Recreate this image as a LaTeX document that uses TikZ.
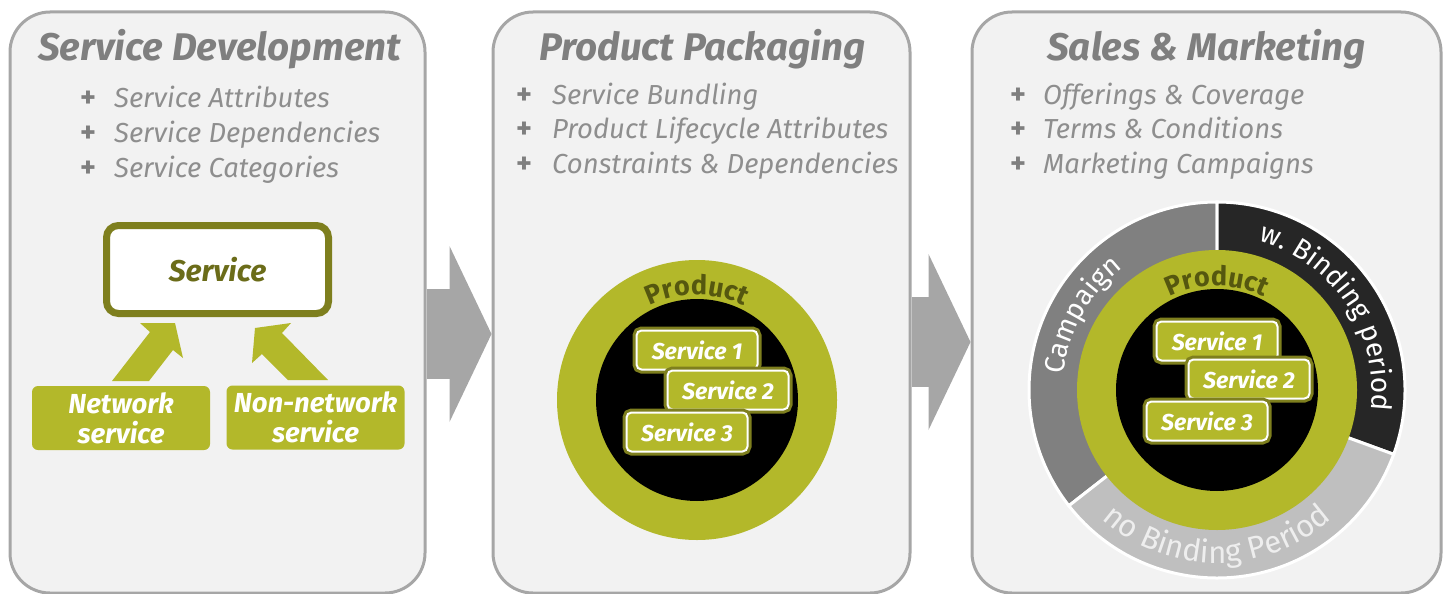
\documentclass[tikz,border=0pt]{standalone}
\usepackage{fontspec}
\setmainfont{Fira Sans}
\usetikzlibrary{arrows.meta,decorations.text}

\definecolor{panelfill}{HTML}{F2F2F2}
\definecolor{panelline}{HTML}{A6A6A6}
\definecolor{titlegray}{HTML}{7F7F7F}
\definecolor{itemgray}{HTML}{8E8E8E}
\definecolor{lime}{HTML}{B3B82A}
\definecolor{olive}{HTML}{7E7F1E}
\definecolor{olivetext}{HTML}{6B6C19}
\definecolor{producttext}{HTML}{55570F}
\definecolor{campaigngray}{HTML}{808080}
\definecolor{bindingdark}{HTML}{262626}
\definecolor{nobindinggray}{HTML}{BFBFBF}
\definecolor{nobindingtext}{HTML}{EEEEEE}

\newcommand\ringtype{\fontsize{28}{28}\selectfont}
\newcommand\lowringtype{\fontsize{31}{31}\selectfont}
\newcommand\producttype{\bfseries\fontsize{27}{27}\selectfont}

\begin{document}
\begin{tikzpicture}
  [
    x = 1pt, y = 1pt,
    panel/.style = {draw=panelline,line width=3,fill=panelfill,rounded corners=40,minimum width=#1,minimum height=581,inner sep=0},
    title/.style = {text=titlegray,font=\bfseries\itshape\fontsize{38.5}{38.5}\selectfont,anchor=base},
    item/.style = {text=itemgray,font=\itshape\fontsize{27.5}{27.5}\selectfont,anchor=base west,inner sep=0},
    plus/.style = {text=titlegray,font=\bfseries\fontsize{30}{30}\selectfont,anchor=base,inner sep=0},
    flow/.style = {draw=panelline,line width=90,-{Triangle[length=42pt,width=176pt,line width=0pt]}},
    feed/.style = {fill=lime},
    service box/.style = {draw=olive,line width=7,fill=white,rounded corners=12,minimum width=222,minimum height=88,text=olivetext,font=\bfseries\itshape\fontsize{30}{30}\selectfont},
    kind box/.style = {fill=lime,rounded corners=6,minimum width=178,minimum height=64,inner sep=0,text=white,align=center,font=\bfseries\itshape\fontsize{27.5}{30}\selectfont},
    outer disc/.style = {circle,fill=lime,minimum size=280,inner sep=0},
    inner disc/.style = {circle,fill=black,minimum size=202,inner sep=0},
    bundle/.style = {fill=lime,draw=white,line width=2,rounded corners=5,minimum width=121,minimum height=39,inner sep=0,text=white,font=\bfseries\itshape\fontsize{23}{23}\selectfont,preaction={draw=olive,line width=8}},
    sector/.style = {draw=white,line width=3},
    product label/.style = {decorate,decoration={text along path,text align=center,text color=producttext,text={|\producttype|Product}}},
    ring label/.style = {decorate,decoration={text along path,text align=center,text color=white,text={|\ringtype|#1}}},
    low ring label/.style = {decorate,decoration={text along path,text align=center,text color=nobindingtext,text={|\lowringtype|#1}}},
  ]

  \useasboundingbox (0,0) rectangle (1445,-594);

  \node[panel=415] (dev)   at (217.5,-302.5)  {};
  \node[panel=417] (pack)  at (701.5,-302.5)  {};
  \node[panel=469] (sales) at (1206.5,-302.5) {};

  \draw[flow] (dev.east |- 0,-334)  -- (pack.west |- 0,-334);
  \draw[flow] (pack.east |- 0,-342) -- (sales.west |- 0,-342);

  \node[title] (dev title)   at (219.5,-60)  {Service Development};
  \node[title] (pack title)  at (702.5,-60)  {Product Packaging};
  \node[title] (sales title) at (1206.5,-60) {Sales \& Marketing};

  \foreach \txt [count=\i] in {Service Attributes,Service Dependencies,Service Categories}
  {
    \node[plus] (dev plus \i) at (88,-72-35*\i)  {+};
    \node[item] (dev item \i) at (114,-72-35*\i) {\txt};
  }
  \foreach \txt [count=\i] in {Service Bundling,Product Lifecycle Attributes,Constraints \& Dependencies}
  {
    \node[plus] (pack plus \i) at (524,-69.5-34.5*\i) {+};
    \node[item] (pack item \i) at (552,-69.5-34.5*\i) {\txt};
  }
  \foreach \txt [count=\i] in {Offerings \& Coverage,Terms \& Conditions,Marketing Campaigns}
  {
    \node[plus] (sales plus \i) at (1018,-69.5-34.5*\i) {+};
    \node[item] (sales item \i) at (1043,-69.5-34.5*\i) {\txt};
  }

  \node[service box] (svc)    at (217.5,-269.5) {Service};
  \node[kind box]    (net)    at (121,-418)     {Network\\service};
  \node[kind box]    (nonnet) at (315.5,-417.5) {Non-network\\service};

  \fill[feed] (112,-381) -- (149,-381) -- (173,-350) -- (183,-358) -- (175,-323) -- (140,-323) -- (150,-332) -- cycle;
  \fill[feed] (288,-380) -- (328,-380) -- (282,-333) -- (291,-323) -- (255,-328) -- (252,-363) -- (262,-354) -- cycle;

  \node[outer disc] (pack ring) at (697,-400) {};
  \node[inner disc] (pack core) at (pack ring.center) {};
  \path[product label] ([shift={(130:105)}]pack ring.center) arc[start angle=130,end angle=50,radius=105];
  \node[bundle] (pack s1) at ([shift={(0,50)}]pack ring.center)   {Service 1};
  \node[bundle] (pack s2) at ([shift={(31,10)}]pack ring.center)  {Service 2};
  \node[bundle] (pack s3) at ([shift={(-10,-32)}]pack ring.center) {Service 3};

  \coordinate (sales c) at (1217,-390);
  \filldraw[sector,fill=campaigngray]  (sales c) -- ++(90:188)  arc[start angle=90,end angle=218,radius=188]  -- cycle;
  \filldraw[sector,fill=bindingdark]   (sales c) -- ++(-20:188) arc[start angle=-20,end angle=90,radius=188]  -- cycle;
  \filldraw[sector,fill=nobindinggray] (sales c) -- ++(218:188) arc[start angle=218,end angle=340,radius=188] -- cycle;
  \path[ring label={Campaign}]              ([shift={(200:154)}]sales c) arc[start angle=200,end angle=102,radius=154];
  \path[ring label={w. Binding period}]     ([shift={(98:155)}]sales c)  arc[start angle=98,end angle=-31,radius=155];
  \path[low ring label={no Binding Period}] ([shift={(205:173)}]sales c) arc[start angle=205,end angle=335,radius=173];

  \node[outer disc] (sales ring) at (sales c) {};
  \node[inner disc] (sales core) at (sales c) {};
  \path[product label] ([shift={(130:104)}]sales c) arc[start angle=130,end angle=50,radius=104];
  \node[bundle] (sales s1) at ([shift={(0,49)}]sales c)    {Service 1};
  \node[bundle] (sales s2) at ([shift={(32,11)}]sales c)   {Service 2};
  \node[bundle] (sales s3) at ([shift={(-10,-31)}]sales c) {Service 3};

\end{tikzpicture}
\end{document}
